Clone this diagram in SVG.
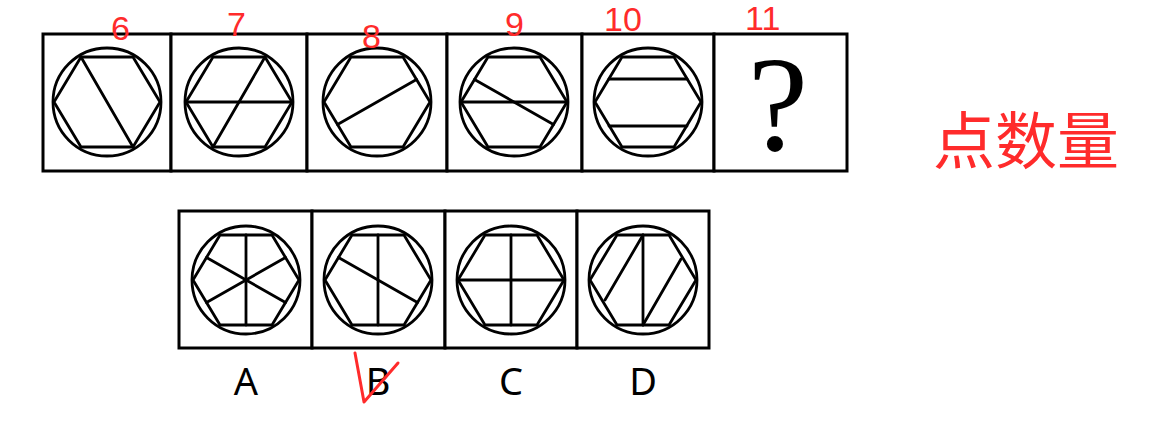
<svg xmlns="http://www.w3.org/2000/svg" xmlns:xlink="http://www.w3.org/1999/xlink" width="1158" height="435" viewBox="0 0 1158 435">
<style>
.box{fill:#fff;stroke:#000;stroke-width:3}
.ln{stroke:#000;stroke-width:2.8;fill:none;stroke-linecap:round}
.lab{font-family:"Noto Sans","Open Sans","Liberation Sans",sans-serif;font-size:38px;fill:#000;text-anchor:middle}
.red{font-family:"Liberation Sans",sans-serif;fill:#ff2b2b;font-size:34px}
.redcjk{font-family:"Noto Sans CJK SC",sans-serif;fill:#ff2b2b;font-size:62px}
</style>
<defs>
<g id="hc">
<circle cx="0" cy="0" r="54" class="ln"/>
<polygon points="-53,0 -26,-45 26,-45 53,0 26,45 -26,45" class="ln" stroke-linejoin="round"/>
</g>
</defs>
<rect width="1158" height="435" fill="#fff"/>
<g id="top-row">
<g id="cell-1"><rect class="box" x="43" y="34" width="128" height="137"/><g transform="translate(107,102)"><use xlink:href="#hc"/><line class="ln" x1="-26" y1="-45" x2="26" y2="45"/></g></g>
<g id="cell-2"><rect class="box" x="171" y="34" width="136" height="137"/><g transform="translate(239,102)"><use xlink:href="#hc"/><line class="ln" x1="-53" y1="0" x2="53" y2="0"/><line class="ln" x1="26" y1="-45" x2="-26" y2="45"/></g></g>
<g id="cell-3"><rect class="box" x="307" y="34" width="140" height="137"/><g transform="translate(377,102)"><use xlink:href="#hc"/><line class="ln" x1="39.5" y1="-22.5" x2="-39.5" y2="22.5"/></g></g>
<g id="cell-4"><rect class="box" x="447" y="34" width="135" height="137"/><g transform="translate(514,102)"><use xlink:href="#hc"/><line class="ln" x1="-53" y1="0" x2="53" y2="0"/><line class="ln" x1="-39.5" y1="-22.5" x2="39.5" y2="22.5"/></g></g>
<g id="cell-5"><rect class="box" x="582" y="34" width="132" height="137"/><g transform="translate(648,102)"><use xlink:href="#hc"/><line class="ln" x1="-39" y1="-23" x2="39" y2="-23"/><line class="ln" x1="-39" y1="24" x2="39" y2="24"/></g></g>
<g id="cell-6"><rect class="box" x="714" y="34" width="133" height="137"/><text x="778" y="150" font-family="Liberation Serif,serif" font-size="136" text-anchor="middle" fill="#000">?</text></g>
</g>
<g id="options">
<g id="opt-A"><rect class="box" x="179" y="211" width="133" height="137"/><g transform="translate(246,280)"><use xlink:href="#hc"/><line class="ln" x1="0" y1="-45" x2="0" y2="45"/><line class="ln" x1="-39.5" y1="-22.5" x2="39.5" y2="22.5"/><line class="ln" x1="39.5" y1="-22.5" x2="-39.5" y2="22.5"/></g><text class="lab" x="246" y="395">A</text></g>
<g id="opt-B"><rect class="box" x="312" y="211" width="133" height="137"/><g transform="translate(378,280)"><use xlink:href="#hc"/><line class="ln" x1="0" y1="-45" x2="0" y2="45"/><line class="ln" x1="-39.5" y1="-22.5" x2="39.5" y2="22.5"/></g><text class="lab" x="378" y="395">B</text></g>
<g id="opt-C"><rect class="box" x="445" y="211" width="132" height="137"/><g transform="translate(511,280)"><use xlink:href="#hc"/><line class="ln" x1="0" y1="-45" x2="0" y2="45"/><line class="ln" x1="-53" y1="0" x2="53" y2="0"/></g><text class="lab" x="511" y="395">C</text></g>
<g id="opt-D"><rect class="box" x="577" y="211" width="132" height="137"/><g transform="translate(643,280)"><use xlink:href="#hc"/><line class="ln" x1="0" y1="-45" x2="0" y2="45"/><line class="ln" x1="-38" y1="20" x2="0" y2="-45"/><line class="ln" x1="38" y1="-21" x2="0" y2="45"/></g><text class="lab" x="643" y="395">D</text></g>
</g>
<g id="annotations">
<text class="red" x="111" y="40">6</text>
<text class="red" x="227" y="36">7</text>
<text class="red" x="362" y="48">8</text>
<text class="red" x="505" y="36">9</text>
<text class="red" x="604" y="31">10</text>
<text class="red" x="745" y="30">11</text>
<text class="redcjk" x="933" y="164">点数量</text>
<path d="M355,353 L364,402 L398,363" fill="none" stroke="#ff2b2b" stroke-width="3" stroke-linecap="round" stroke-linejoin="round"/>
</g>
</svg>
